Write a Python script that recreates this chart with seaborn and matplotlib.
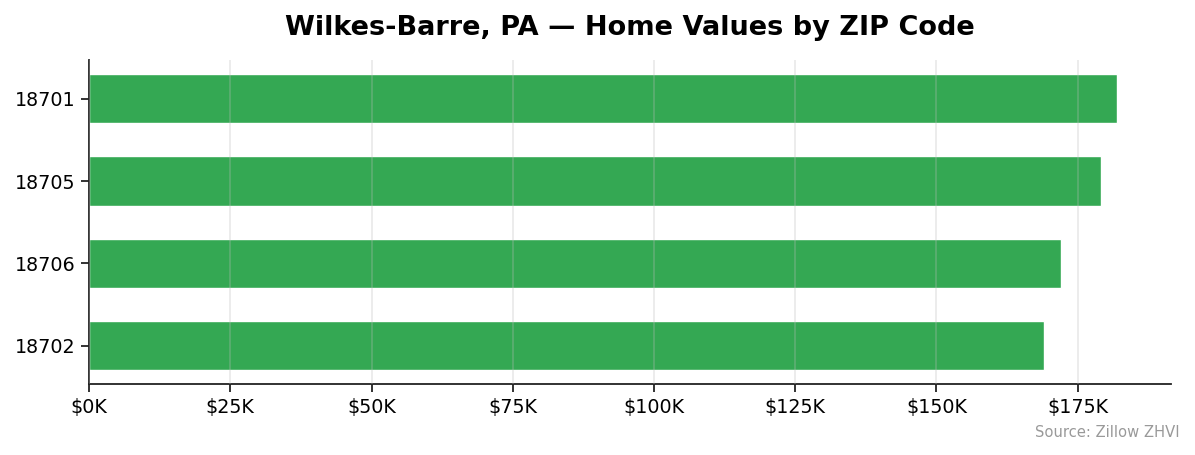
import pandas as pd
import matplotlib
matplotlib.use("Agg")
import matplotlib.pyplot as plt
import seaborn as sns
from matplotlib.ticker import FuncFormatter

# Data
zips = ["18701", "18705", "18706", "18702"]
home_values = [182000, 179100, 172000, 169000]

df = pd.DataFrame({"ZIP": zips, "Value": home_values})

sns.set_style("white")
plt.rcParams["font.family"] = ["DejaVu Sans"]

fig, ax = plt.subplots(figsize=(11.95, 4.55), dpi=100)
fig.subplots_adjust(left=0.0745, right=0.9797, top=0.868, bottom=0.155)

sns.barplot(x="Value", y="ZIP", data=df, orient="h", color="#34a853",
            saturation=1, width=0.6, ax=ax)

ax.set_xlim(0, max(home_values) * 1.052)
ax.set_ylim(3.47, -0.47)
ax.xaxis.set_major_formatter(FuncFormatter(lambda v, p: f"${v/1000:.0f}K"))
ax.set_axisbelow(False)
ax.grid(axis="x", color="#bbbbbb", alpha=0.35, linewidth=1.1)
ax.grid(axis="y", visible=False)

sns.despine(ax=ax)
for s in ["left", "bottom"]:
    ax.spines[s].set_color("#222222")
    ax.spines[s].set_linewidth(1.3)
ax.tick_params(axis="both", which="both", length=6, width=1.3, color="#222222",
               labelsize=13.8, labelcolor="black", pad=3.5, left=True, bottom=True)

ax.set_xlabel("")
ax.set_ylabel("")
ax.set_title("Wilkes-Barre, PA — Home Values by ZIP Code",
             fontsize=19.5, fontweight="bold", color="black", pad=18)

fig.text(0.987, 0.032, "Source: Zillow ZHVI", ha="right", va="bottom",
         fontsize=10.6, color="#999999")

plt.savefig("out.png", dpi=100)
